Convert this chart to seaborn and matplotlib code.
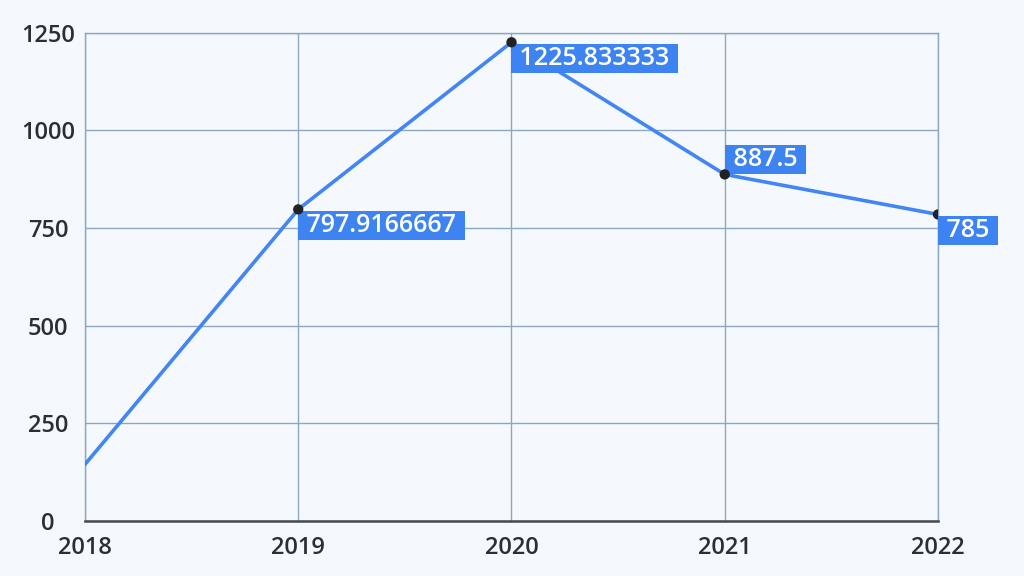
import matplotlib
matplotlib.use("Agg")
import matplotlib.pyplot as plt
import seaborn as sns
import pandas as pd

# --- chart data ---
YEARS = [2018, 2019, 2020, 2021, 2022]
VALUES = [145, 797.9166667, 1225.833333, 887.5, 785]
LABELS = ["", "797.9166667", "1225.833333", "887.5", "785"]
Y_TICKS = [0, 250, 500, 750, 1000, 1250]

LINE_BLUE = "#4285f4"
BOX_BLUE = "#3d84f2"
GRID = "#8da6c4"
TEXT_DARK = "#2b2f33"
BG = "#f5f9fd"

sns.set_theme(style="white")
plt.rcParams["font.family"] = ["Open Sans", "DejaVu Sans"]

df = pd.DataFrame({"year": YEARS, "value": VALUES, "label": LABELS})

fig = plt.figure(figsize=(10.24, 5.76), dpi=100, facecolor=BG)
ax = fig.add_axes([0.083, 0.0955, 0.833, 0.8475])
ax.set_facecolor(BG)

sns.lineplot(data=df, x="year", y="value", color=LINE_BLUE, linewidth=2.6, ax=ax, zorder=3)
sns.scatterplot(data=df[df["label"] != ""], x="year", y="value", color="#222222",
                s=55, edgecolor="none", ax=ax, zorder=5)

# value boxes: corner sits on the point, below-right except 2021 above-right
fs = 18
pad = 0.08
pad_pt = fs * pad
for _, row in df[df["label"] != ""].iterrows():
    above = row["year"] == 2021
    ax.annotate(f" {row['label']} ", (row["year"], row["value"]),
                xytext=(pad_pt, pad_pt if above else -pad_pt - 1.0),
                textcoords="offset points",
                ha="left", va="bottom" if above else "top",
                color="white", fontsize=fs, fontweight="semibold",
                bbox=dict(boxstyle=f"square,pad={pad}", fc=BOX_BLUE, ec="none"),
                zorder=4, annotation_clip=False)

ax.set_xlim(2018, 2022)
ax.set_ylim(0, 1250)
ax.set_xticks(YEARS)
ax.set_yticks(Y_TICKS)
ax.grid(True, color=GRID, linewidth=1.0)
ax.set_axisbelow(True)

for side in ["top", "right", "left"]:
    ax.spines[side].set_color(GRID)
    ax.spines[side].set_linewidth(1.0)
ax.spines["bottom"].set_color("#444a50")
ax.spines["bottom"].set_linewidth(1.8)

ax.tick_params(axis="both", labelsize=17, colors=TEXT_DARK, length=0)
ax.tick_params(axis="y", pad=26.5)
ax.tick_params(axis="x", pad=11)
for lbl in ax.get_xticklabels() + ax.get_yticklabels():
    lbl.set_fontweight("semibold")
for lbl in ax.get_yticklabels():
    lbl.set_horizontalalignment("center")
ax.set_xlabel("")
ax.set_ylabel("")

fig.savefig("out.png", dpi=100, facecolor=BG)
